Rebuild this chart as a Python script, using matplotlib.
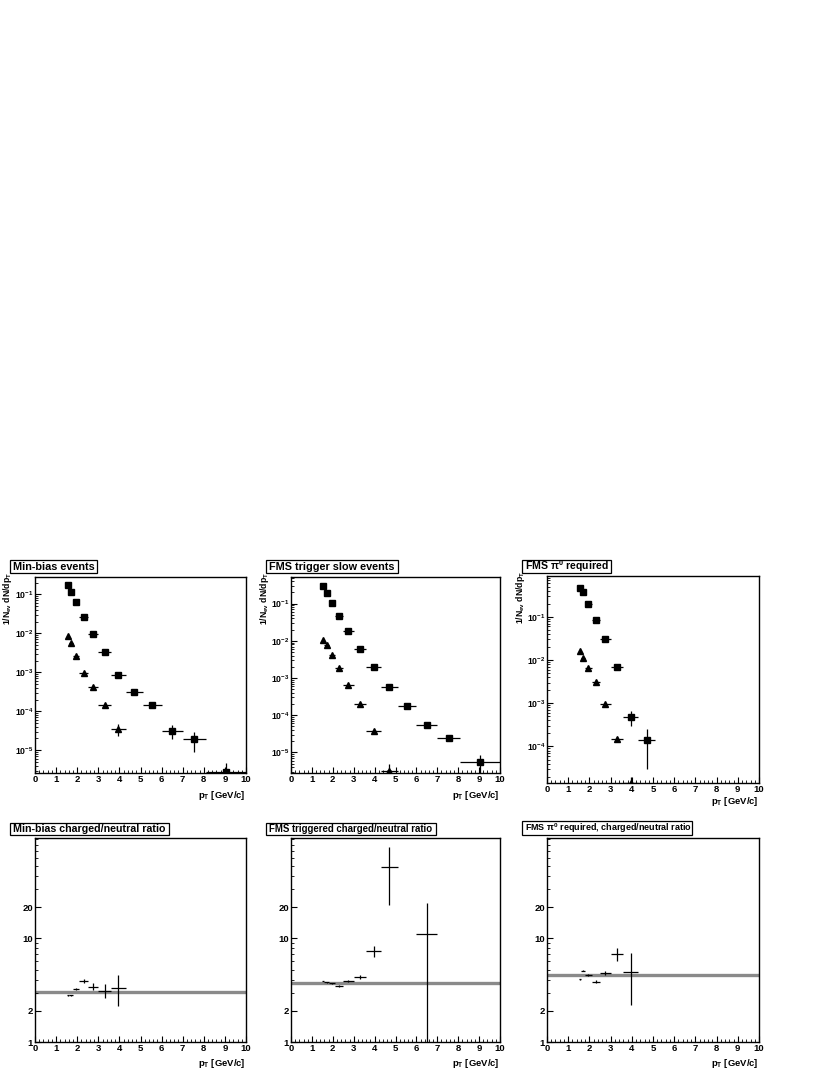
import numpy as np
import matplotlib
matplotlib.use("Agg")
import matplotlib.pyplot as plt
from matplotlib.patches import Rectangle
from matplotlib.ticker import LogLocator, FixedLocator, NullFormatter, FuncFormatter, MultipleLocator
from matplotlib.transforms import ScaledTranslation

plt.rcParams["font.family"] = ["Liberation Sans", "DejaVu Sans"]
plt.rcParams["font.weight"] = "bold"
plt.rcParams["mathtext.default"] = "regular"

# ---------- data ----------
pt_edges = [1.5, 1.6, 1.8, 2.1, 2.5, 3.0, 3.6, 4.3, 5.1, 6.0, 7.0, 8.1, 10.0]

# min-bias spectra
mb_sq = [0.171, 0.115, 0.0634, 0.027, 0.0096, 0.00329, 8.7e-4, 3.1e-4, 1.46e-4, 3.16e-5, 1.89e-5, 2.75e-6]
mb_sq_err = [0.003, 0.002, 0.001, 4e-4, 1.5e-4, 5e-5, 2e-5, 8e-6, 5e-6, 1.25e-5, 1.0e-5, 2.0e-6]
mb_tri = [0.00836, 0.0055, 0.00264, 9.8e-4, 4.1e-4, 1.49e-4, 3.56e-5]
mb_tri_err = [2e-4, 1.5e-4, 7e-5, 3e-5, 1.5e-5, 8e-6, 1.2e-5]

# FMS trigger slow events
fms_sq = [0.292, 0.198, 0.106, 0.0475, 0.018, 0.0059, 0.00194, 5.7e-4, 1.8e-4, 5.3e-5, 2.5e-5, 5.5e-6]
fms_sq_err = [0.004, 0.003, 0.002, 8e-4, 3e-4, 1e-4, 4e-5, 1.5e-5, 6e-6, 3e-6, 2e-6, 2.8e-6]
fms_tri = [0.0107, 0.0076, 0.00416, 0.0019, 6.6e-4, 2.0e-4, 3.7e-5, 3.1e-6]
fms_tri_err = [2e-4, 1.5e-4, 8e-5, 4e-5, 2e-5, 8e-6, 3e-6, 1.8e-6]

# FMS pi0 required
pi0_sq = [0.467, 0.37, 0.196, 0.084, 0.031, 0.007, 4.9e-4, 1.4e-4]
pi0_sq_err = [0.01, 0.008, 0.005, 0.002, 0.001, 4e-4, 1.9e-4, 1.1e-4]
pi0_tri = [0.0164, 0.0109, 0.0064, 0.00316, 9.5e-4, 1.48e-4, 1.45e-5]
pi0_tri_err = [5e-4, 4e-4, 2.5e-4, 1.5e-4, 6e-5, 2e-5, 5e-6]

# charged/neutral ratios (bin index into pt_edges)
mb_ratio_bins = [0, 1, 2, 3, 4, 5, 6]
mb_ratio = [2.83, 2.83, 3.25, 3.89, 3.42, 3.13, 3.33]
mb_ratio_err = [0.04, 0.04, 0.08, 0.14, 0.26, 0.47, 1.1]
mb_ratio_fit = 3.05

fms_ratio_bins = [0, 1, 2, 3, 4, 5, 6, 7, 9]
fms_ratio = [3.88, 3.78, 3.7, 3.48, 3.91, 4.27, 7.55, 48.8, 10.9]
fms_ratio_err = [0.04, 0.04, 0.04, 0.06, 0.08, 0.2, 0.9, 28.0, 11.0]
fms_ratio_fit = 3.74

pi0_ratio_bins = [0, 1, 2, 3, 4, 5, 6]
pi0_ratio = [4.03, 4.85, 4.44, 3.83, 4.62, 7.03, 4.77]
pi0_ratio_err = [0.04, 0.06, 0.06, 0.1, 0.2, 1.0, 2.5]
pi0_ratio_fit = 4.4

# ---------- figure ----------
W, H = 830, 1075
fig = plt.figure(figsize=(W / 100, H / 100), dpi=100)
edges = np.array(pt_edges)
centers = 0.5 * (edges[1:] + edges[:-1])
halfw = 0.5 * (edges[1:] - edges[:-1])


def make_ax(x0, y0, x1, y1):
    return fig.add_axes([x0 / W, 1 - y1 / H, (x1 - x0) / W, (y1 - y0) / H])


def style(ax):
    ax.set_xlim(0, 10)
    ax.set_yscale("log")
    ax.xaxis.set_major_locator(MultipleLocator(1))
    ax.xaxis.set_minor_locator(MultipleLocator(0.2))
    ax.tick_params(which="both", direction="in", top=False, right=False,
                   labelsize=6.8, pad=1.5)
    ax.tick_params(which="major", length=4.5, width=0.8)
    ax.tick_params(which="minor", length=2.2, width=0.6)
    for s in ax.spines.values():
        s.set_linewidth(1.0)


def bold_labels(ax):
    for lab in ax.get_xticklabels() + ax.get_yticklabels():
        lab.set_fontweight("bold")


def xlabel(ax, dy):
    off = ScaledTranslation(0, -dy / 100, fig.dpi_scale_trans)
    ax.text(1.0, 0, "p$_{T}$ [GeV/c]", transform=ax.transAxes + off,
            ha="right", va="center", fontsize=6.8, fontweight="bold")


def ylabel(ax):
    off = ScaledTranslation(-27 / 100, 5 / 100, fig.dpi_scale_trans)
    ax.text(0, 1.0, "1/N$_{ev}$ dN/dp$_{T}$", transform=ax.transAxes + off,
            rotation=90, ha="center", va="top", fontsize=6.2, fontweight="bold")


def title(x0, y0, x1, y1, txt, size):
    fig.add_artist(Rectangle((x0 / W, 1 - y1 / H), (x1 - x0) / W, (y1 - y0) / H,
                             transform=fig.transFigure, fc="white", ec="black", lw=0.9))
    fig.text((x0 + 3) / W, 1 - (y0 + y1) / 2 / H, txt, fontsize=size,
             fontweight="bold", ha="left", va="center")


dec_fmt = FuncFormatter(lambda v, p: "10$^{%d}$" % int(round(np.log10(v))))


def spectrum(ax, sq, sq_err, tri, tri_err, ylim):
    n = len(sq)
    ax.errorbar(centers[:n], sq, xerr=halfw[:n], yerr=sq_err, fmt="s", ms=4.5,
                color="black", elinewidth=0.9, capsize=0)
    m = len(tri)
    ax.errorbar(centers[:m], tri, xerr=halfw[:m], yerr=tri_err, fmt="^", ms=4.2,
                color="black", elinewidth=0.9, capsize=0)
    style(ax)
    ax.tick_params(axis="y", labelsize=6.2, pad=1)
    ax.set_ylim(*ylim)
    ax.yaxis.set_major_locator(LogLocator(base=10, numticks=20))
    ax.yaxis.set_minor_locator(LogLocator(base=10, subs=np.arange(2, 10), numticks=20))
    ax.yaxis.set_major_formatter(dec_fmt)
    ax.yaxis.set_minor_formatter(NullFormatter())
    bold_labels(ax)
    ylabel(ax)


def ratio(ax, bins, vals, errs, fit):
    ax.axhline(fit, color="#8a8a8a", lw=2.4, zorder=1)
    b = np.array(bins)
    ax.errorbar(centers[b], vals, xerr=halfw[b], yerr=errs, fmt="none",
                ecolor="black", elinewidth=0.9, capsize=0, zorder=2)
    style(ax)
    ax.set_ylim(1, 93)
    ax.yaxis.set_major_locator(FixedLocator([1, 2, 10, 20]))
    ax.yaxis.set_minor_locator(FixedLocator([3, 4, 5, 6, 7, 8, 9, 30, 40, 50, 60, 70, 80, 90]))
    ax.yaxis.set_major_formatter(FuncFormatter(lambda v, p: "%d" % v))
    ax.yaxis.set_minor_formatter(NullFormatter())
    bold_labels(ax)


# top row
ax1 = make_ax(35, 577, 246, 773)
spectrum(ax1, mb_sq, mb_sq_err, mb_tri, mb_tri_err, (2.6e-6, 0.28))
xlabel(ax1, 23)
title(10, 560, 97, 573, "Min-bias events", 7.8)

ax2 = make_ax(291, 577, 500, 773)
spectrum(ax2, fms_sq, fms_sq_err, fms_tri, fms_tri_err, (2.8e-6, 0.52))
xlabel(ax2, 23)
title(266, 560, 398, 573, "FMS trigger slow events", 7.8)

ax3 = make_ax(547, 576, 759, 783)
spectrum(ax3, pi0_sq, pi0_sq_err, pi0_tri, pi0_tri_err, (1.43e-5, 0.88))
xlabel(ax3, 18)
title(522, 560, 611, 573, "FMS π$^{0}$ required", 7.6)

# bottom row
ax4 = make_ax(35, 838, 246, 1042)
ratio(ax4, mb_ratio_bins, mb_ratio, mb_ratio_err, mb_ratio_fit)
xlabel(ax4, 21)
title(10, 823, 169, 835, "Min-bias charged/neutral ratio", 7.7)

ax5 = make_ax(291, 838, 500, 1042)
ratio(ax5, fms_ratio_bins, fms_ratio, fms_ratio_err, fms_ratio_fit)
xlabel(ax5, 21)
title(266, 823, 436, 835, "FMS triggered charged/neutral ratio", 6.9)

ax6 = make_ax(547, 838, 759, 1042)
ratio(ax6, pi0_ratio_bins, pi0_ratio, pi0_ratio_err, pi0_ratio_fit)
xlabel(ax6, 21)
title(522, 821, 692, 835, "FMS π$^{0}$ required, charged/neutral ratio", 6.5)

fig.savefig("out.png", dpi=100)
